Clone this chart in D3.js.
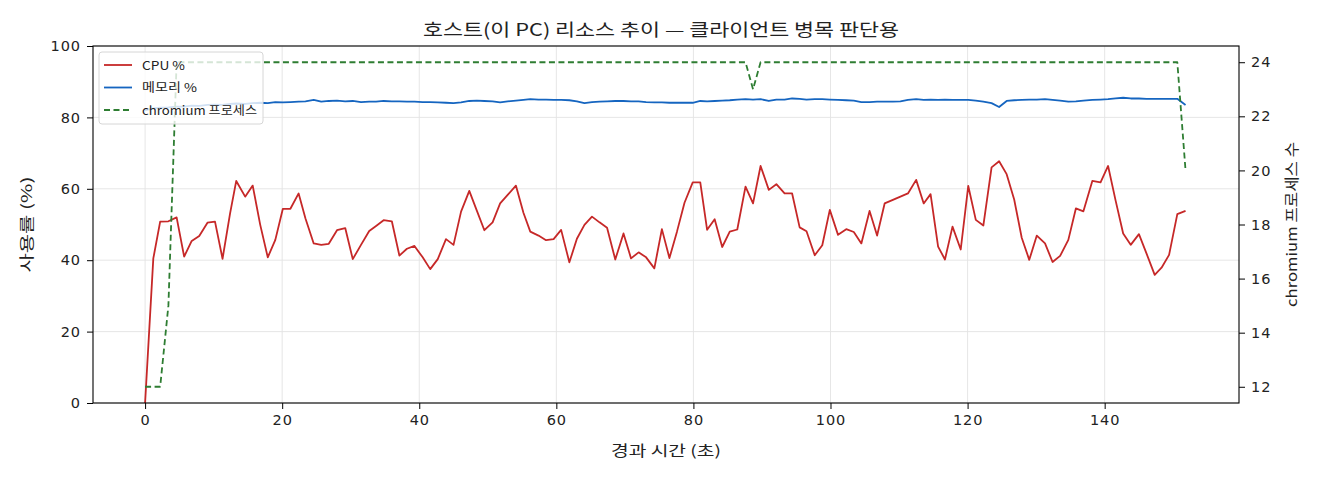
<!DOCTYPE html>
<html>
<head>
<meta charset="utf-8">
<script src="https://cdn.jsdelivr.net/npm/d3@7"></script>
<style>
  body { margin: 0; background: #fff; }
  svg text { font-family: "Noto Sans CJK KR", "Noto Sans", sans-serif; fill: #222; }
  svg .tick text { font-family: "DejaVu Sans", sans-serif; letter-spacing: 0.9px; }
</style>
</head>
<body>
<svg id="chart" width="1320" height="480"></svg>
<script>
// elapsed seconds of each sample
var seconds = [
  0, 1.2, 2.2, 3.4, 4.6, 5.7, 6.8, 7.9, 9.1, 10.2,
  11.3, 12.4, 13.3, 14.6, 15.7, 16.8, 17.9, 19.0, 20.1, 21.2,
  22.4, 23.4, 24.6, 25.7, 26.8, 28.0, 29.2, 30.3, 31.5, 32.7,
  33.7, 34.8, 36.0, 37.1, 38.2, 39.3, 40.5, 41.6, 42.7, 43.9,
  45.0, 46.1, 47.3, 48.4, 49.5, 50.7, 51.8, 52.9, 54.1, 55.2,
  56.2, 57.4, 58.5, 59.6, 60.7, 61.9, 63.0, 64.1, 65.2, 66.3,
  67.4, 68.6, 69.8, 70.9, 72.0, 73.1, 74.3, 75.4, 76.5, 77.6,
  78.7, 79.9, 81.0, 82.0, 83.1, 84.2, 85.3, 86.4, 87.6, 88.7,
  89.8, 91.0, 92.1, 93.3, 94.4, 95.5, 96.5, 97.7, 98.8, 99.9,
  101.1, 102.3, 103.4, 104.5, 105.7, 106.8, 107.9, 109.1, 110.2, 111.3,
  112.5, 113.6, 114.6, 115.7, 116.7, 117.8, 119.0, 120.1, 121.2, 122.3,
  123.5, 124.6, 125.7, 126.8, 127.9, 129.0, 130.1, 131.3, 132.4, 133.5,
  134.7, 135.8, 136.9, 138.2, 139.4, 140.5, 141.6, 142.7, 143.8, 145.0,
  146.1, 147.3, 148.3, 149.4, 150.6, 151.8
];

var cpu = [
  0, 40.5, 50.8, 50.9, 52.0, 41.0, 45.4, 46.8, 50.5, 50.8,
  40.4, 53.1, 62.2, 57.8, 60.9, 49.9, 40.8, 45.7, 54.4, 54.4,
  58.7, 51.7, 44.7, 44.3, 44.6, 48.4, 49.0, 40.3, 44.3, 48.2,
  49.6, 51.2, 50.9, 41.3, 43.2, 44.0, 40.8, 37.5, 40.3, 45.9,
  44.3, 53.6, 59.4, 53.9, 48.4, 50.6, 55.9, 58.3, 60.9, 53.3,
  48.0, 46.9, 45.6, 45.9, 48.5, 39.4, 46.0, 49.9, 52.2, 50.6,
  49.1, 40.2, 47.5, 40.5, 42.2, 40.8, 37.7, 48.7, 40.6, 48.0,
  56.1, 61.8, 61.8, 48.5, 51.5, 43.7, 48.0, 48.6, 60.6, 55.9,
  66.4, 59.7, 61.3, 58.7, 58.7, 49.2, 48.1, 41.4, 44.2, 54.1,
  47.1, 48.7, 47.9, 44.7, 53.8, 46.9, 55.9, 56.9, 57.8, 58.7,
  62.5, 55.9, 58.5, 43.8, 40.2, 49.4, 43.0, 60.8, 51.3, 49.7,
  66.0, 67.7, 64.1, 57.0, 46.3, 40.1, 46.9, 44.7, 39.5, 41.2,
  45.7, 54.5, 53.7, 62.2, 61.8, 66.4, 56.7, 47.5, 44.3, 47.3,
  41.9, 35.9, 37.9, 41.5, 52.9, 53.8
];

var memory = [
  82.0, 82.5, 82.7, 82.8, 83.0,
  83.0, 83.3, 83.2, 83.5, 83.6, 83.5, 83.8, 83.9, 83.8, 84.0, 84.1, 84.0, 84.3, 84.2,
  84.3, 84.4, 84.5, 84.9, 84.4, 84.6, 84.7, 84.5, 84.6, 84.3, 84.4, 84.4, 84.6, 84.5,
  84.5, 84.4, 84.4, 84.3, 84.3, 84.2, 84.1, 84.0, 84.2, 84.6, 84.7, 84.6,
  84.5, 84.2, 84.5, 84.7, 84.9, 85.1, 85.0, 85.0, 84.9, 84.9,
  84.8, 84.5, 84.0, 84.3, 84.4, 84.5, 84.6, 84.6, 84.5, 84.5,
  84.3, 84.2, 84.2, 84.1, 84.1, 84.1, 84.1, 84.6, 84.5, 84.6,
  84.7, 84.8, 85.0, 85.1, 85.0, 85.1, 84.6, 85.0, 85.0, 85.3,
  85.2, 85.0, 85.1, 85.1, 85.0, 84.9, 84.8, 84.7, 84.3, 84.3,
  84.4, 84.4, 84.4, 84.5, 84.9, 85.1, 84.9, 85.0, 84.9, 85.0,
  84.9, 84.9, 84.9, 84.7, 84.4, 84.0, 82.9, 84.6, 84.8, 84.9,
  85.0, 85.0, 85.1, 84.9, 84.7, 84.4, 84.5, 84.7, 84.9, 85.0,
  85.1, 85.3, 85.5, 85.3, 85.3, 85.2, 85.2, 85.2, 85.2, 85.2, 83.5
];

var chromium = [
  12, 12, 12, 15, 24, 24, 24, 24, 24, 24,
  24, 24, 24, 24, 24, 24, 24, 24, 24, 24,
  24, 24, 24, 24, 24, 24, 24, 24, 24, 24,
  24, 24, 24, 24, 24, 24, 24, 24, 24, 24,
  24, 24, 24, 24, 24, 24, 24, 24, 24, 24,
  24, 24, 24, 24, 24, 24, 24, 24, 24, 24,
  24, 24, 24, 24, 24, 24, 24, 24, 24, 24,
  24, 24, 24, 24, 24, 24, 24, 24, 24, 23,
  24, 24, 24, 24, 24, 24, 24, 24, 24, 24,
  24, 24, 24, 24, 24, 24, 24, 24, 24, 24,
  24, 24, 24, 24, 24, 24, 24, 24, 24, 24,
  24, 24, 24, 24, 24, 24, 24, 24, 24, 24,
  24, 24, 24, 24, 24, 24, 24, 24, 24, 24,
  24, 24, 24, 24, 24, 20
];

var xTicks = [0, 20, 40, 60, 80, 100, 120, 140];
var leftTicks = [0, 20, 40, 60, 80, 100];
var rightTicks = [12, 14, 16, 18, 20, 22, 24];

var seriesInfo = [
  {name: "CPU %", values: cpu, color: "#c62828", dash: null, axis: "left", w: 43},
  {name: "메모리 %", values: memory, color: "#1565c0", dash: null, axis: "left", w: 55},
  {name: "chromium 프로세스", values: chromium, color: "#2e7d32", dash: "6,3.5", axis: "right", w: 115}
];

var plotL = 93, plotR = 1239, plotT = 46, plotB = 403;
var svg = d3.select("#chart");

var x = d3.scaleLinear().domain([-7.6, 159.6]).range([plotL, plotR]);
var yL = d3.scaleLinear().domain([0, 100]).range([plotB, plotT]);
var yR = d3.scaleLinear().domain([11.4, 24.6]).range([plotB, plotT]);

// grid
var grid = svg.append("g").attr("stroke", "#e3e3e3").attr("stroke-width", 0.9);
grid.selectAll("line.gx").data(xTicks).enter().append("line")
	.attr("class", "gx")
	.attr("x1", function(d){ return x(d); }).attr("x2", function(d){ return x(d); })
	.attr("y1", plotT).attr("y2", plotB);
grid.selectAll("line.gy").data(leftTicks).enter().append("line")
	.attr("class", "gy")
	.attr("y1", function(d){ return yL(d); }).attr("y2", function(d){ return yL(d); })
	.attr("x1", plotL).attr("x2", plotR);

// lines
var lineG = svg.append("g");
seriesInfo.forEach(function(s) {
	var yS = s.axis == "left" ? yL : yR;
	var line = d3.line()
		.x(function(d, i){ return x(seconds[i]); })
		.y(function(d){ return yS(d); });
	lineG.append("path")
		.datum(s.values)
		.attr("d", line)
		.attr("fill", "none")
		.attr("stroke", s.color)
		.attr("stroke-width", 1.8)
		.attr("stroke-linejoin", "round")
		.attr("stroke-dasharray", s.dash);
});

// axes
function styleAxis(g) {
	g.selectAll("text").attr("font-size", 14.5).attr("fill", "#222");
	g.selectAll("line").attr("stroke", "#000").attr("stroke-width", 1);
	g.select(".domain").remove();
}
svg.append("g")
	.attr("transform", "translate(0," + plotB + ")")
	.call(d3.axisBottom(x).tickValues(xTicks).tickSize(6).tickPadding(6))
	.call(styleAxis);
svg.append("g")
	.attr("transform", "translate(" + plotL + ",0)")
	.call(d3.axisLeft(yL).tickValues(leftTicks).tickSize(6).tickPadding(6))
	.call(styleAxis);
svg.append("g")
	.attr("transform", "translate(" + plotR + ",0)")
	.call(d3.axisRight(yR).tickValues(rightTicks).tickSize(6).tickPadding(6))
	.call(styleAxis);

svg.append("rect")
	.attr("x", plotL).attr("y", plotT)
	.attr("width", plotR - plotL).attr("height", plotB - plotT)
	.attr("fill", "none").attr("stroke", "#000").attr("stroke-width", 1.1);

// titles
function fitText(sel, len) {
	sel.attr("textLength", len).attr("lengthAdjust", "spacingAndGlyphs");
}
svg.append("text")
	.attr("x", 661).attr("y", 36)
	.attr("text-anchor", "middle").attr("font-size", 17.5)
	.text("호스트(이 PC) 리소스 추이 — 클라이언트 병목 판단용")
	.call(fitText, 476);
svg.append("text")
	.attr("x", 666).attr("y", 456)
	.attr("text-anchor", "middle").attr("font-size", 14.5)
	.text("경과 시간 (초)")
	.call(fitText, 110);
svg.append("text")
	.attr("transform", "translate(32," + ((plotT + plotB) / 2) + ") rotate(-90)")
	.attr("text-anchor", "middle").attr("font-size", 14.5)
	.text("사용률 (%)")
	.call(fitText, 96);
svg.append("text")
	.attr("transform", "translate(1297," + ((plotT + plotB) / 2) + ") rotate(-90)")
	.attr("text-anchor", "middle").attr("font-size", 14.5)
	.text("chromium 프로세스 수")
	.call(fitText, 165);

// legend
var legend = svg.append("g").attr("transform", "translate(99,52)");
legend.append("rect")
	.attr("width", 164).attr("height", 72).attr("rx", 3)
	.attr("fill", "#fff").attr("fill-opacity", 0.8)
	.attr("stroke", "#d6d6d6");
var item = legend.selectAll("g.item").data(seriesInfo).enter().append("g")
	.attr("class", "item")
	.attr("transform", function(d, i){ return "translate(0," + (13 + i * 22.5) + ")"; });
item.append("line")
	.attr("x1", 5).attr("x2", 33)
	.attr("stroke", function(d){ return d.color; })
	.attr("stroke-width", 1.8)
	.attr("stroke-dasharray", function(d){ return d.dash; });
item.append("text")
	.attr("x", 43).attr("y", 4.5)
	.attr("font-size", 12)
	.text(function(d){ return d.name; })
	.each(function(d){ d3.select(this).call(fitText, d.w); });
</script>
</body>
</html>
